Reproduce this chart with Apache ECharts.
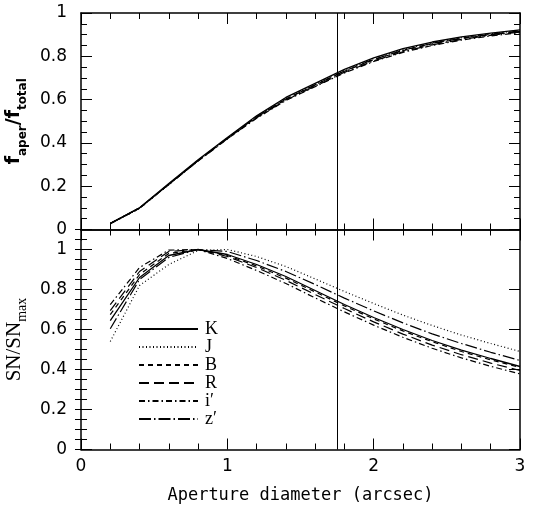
<!DOCTYPE html>
<html><head><meta charset="utf-8">
<script src="https://cdn.jsdelivr.net/npm/echarts@6/dist/echarts.min.js"></script>
<style>html,body{margin:0;padding:0;background:#fff}#c{width:534px;height:507px}</style>
</head><body><div id="c"></div>
<script>
const apertures = [0.2,0.4,0.6,0.8,1.0,1.2,1.4,1.6,1.8,2.0,2.2,2.4,2.6,2.8,3.0];
const bands = ['K','J','B','R','i′','z′'];
const xTicks = [0,1,2,3];
const yTicks = [0,0.2,0.4,0.6,0.8,1];
const markerAperture = 1.75;

// top panel: f_aper / f_total
const fracK = [0.028,0.100,0.212,0.322,0.425,0.525,0.610,0.675,0.740,0.793,0.835,0.866,0.890,0.907,0.922];
const fracJ = [0.026,0.097,0.207,0.318,0.422,0.522,0.606,0.670,0.735,0.789,0.831,0.862,0.886,0.904,0.919];
const fracB = [0.027,0.098,0.208,0.318,0.421,0.519,0.602,0.667,0.731,0.784,0.826,0.858,0.882,0.900,0.915];
const fracR = [0.027,0.099,0.209,0.319,0.422,0.520,0.603,0.668,0.732,0.786,0.828,0.860,0.884,0.902,0.917];
const fracI = [0.028,0.099,0.208,0.316,0.418,0.514,0.596,0.660,0.723,0.776,0.818,0.850,0.875,0.894,0.909];
const fracZ = [0.028,0.100,0.209,0.317,0.419,0.516,0.598,0.662,0.726,0.779,0.821,0.853,0.878,0.897,0.912];

// bottom panel: SN / SN_max
const snK = [0.644,0.860,0.970,1.000,0.975,0.925,0.865,0.795,0.725,0.660,0.600,0.545,0.497,0.455,0.415];
const snJ = [0.540,0.820,0.925,0.995,1.000,0.965,0.915,0.853,0.790,0.730,0.672,0.620,0.572,0.530,0.490];
const snB = [0.674,0.875,0.980,1.000,0.970,0.918,0.857,0.788,0.718,0.653,0.593,0.539,0.490,0.448,0.410];
const snR = [0.694,0.890,0.990,1.000,0.965,0.910,0.846,0.775,0.705,0.638,0.577,0.522,0.474,0.432,0.395];
const snI = [0.724,0.910,0.997,1.000,0.955,0.895,0.830,0.758,0.688,0.622,0.561,0.506,0.458,0.416,0.378];
const snZ = [0.604,0.850,0.960,1.000,0.990,0.945,0.890,0.825,0.757,0.693,0.633,0.578,0.530,0.486,0.445];

const fracs = [fracK,fracJ,fracB,fracR,fracI,fracZ];
const sns = [snK,snJ,snB,snR,snI,snZ];
const dashes = ['solid',[1,2.5],[5,4],[10,5],[6,3,1.5,3],[12,3,1.5,3]];
const widths = [1.3,1.2,1.2,1.2,1.2,1.2];

const chart = echarts.init(document.getElementById('c'), null, {renderer:'canvas'});
const black = '#000';
const numFont = {fontFamily:'DejaVu Sans', fontSize:17, color:black};

function xAx(grid, pos, labels) {
  return {
    type:'value', gridIndex:grid, position:pos, min:0, max:3, interval:1,
    axisLine:{show:true, onZero:false, lineStyle:{color:black,width:1.5}},
    axisTick:{show:true, inside:true, length:11, lineStyle:{color:black,width:1}},
    minorTick:{show:true, splitNumber:5, length:6, lineStyle:{color:black,width:1}},
    splitLine:{show:false}, minorSplitLine:{show:false},
    axisLabel: labels ? Object.assign({show:true, margin:9}, numFont) : {show:false}
  };
}
function yAx(grid, pos, max, interval, tickLen, opts) {
  return Object.assign({
    type:'value', gridIndex:grid, position:pos, min:0, max:max, interval:interval,
    axisLine:{show:true, onZero:false, lineStyle:{color:black,width:1.5}},
    axisTick:{show:true, inside:true, length:tickLen, lineStyle:{color:black,width:1}},
    splitLine:{show:false},
    axisLabel:{show:false}
  }, opts||{});
}
const fRich = {
  a:{fontFamily:'DejaVu Sans', fontWeight:'bold', fontSize:19, color:black, verticalAlign:'middle', lineHeight:24},
  s:{fontFamily:'DejaVu Sans', fontWeight:'bold', fontSize:12, color:black, verticalAlign:'bottom', lineHeight:24, padding:[0,0,-3,0]}
};
const snRich = {
  a:{fontFamily:'Liberation Serif', fontSize:21, color:black, verticalAlign:'middle', lineHeight:24},
  s:{fontFamily:'Liberation Serif', fontSize:14, color:black, verticalAlign:'bottom', lineHeight:24, padding:[0,0,-3,0]}
};

const series = [];
bands.forEach((b,i) => {
  const top = {
    name:b, type:'line', xAxisIndex:0, yAxisIndex:0, symbol:'none', silent:true,
    itemStyle:{color:black},
    lineStyle:{color:black, width:widths[i], type:dashes[i]},
    data: apertures.map((x,j)=>[x, fracs[i][j]])
  };
  const bot = {
    name:b, type:'line', xAxisIndex:2, yAxisIndex:2, symbol:'none', silent:true,
    itemStyle:{color:black},
    lineStyle:{color:black, width:widths[i], type:dashes[i]},
    data: apertures.map((x,j)=>[x, sns[i][j]])
  };
  if (i === 0) {
    const ml = {silent:true, symbol:['none','none'], label:{show:false},
      lineStyle:{color:black, width:1, type:'solid'}, data:[{xAxis:markerAperture}], animation:false};
    top.markLine = ml; bot.markLine = JSON.parse(JSON.stringify(ml));
  }
  series.push(top, bot);
});

chart.setOption({
  animation:false,
  backgroundColor:'#fff',
  grid:[
    {left:81, right:14, top:13, height:216.5, containLabel:false, outerBoundsMode:'none'},
    {left:81, right:14, top:229.5, height:220, containLabel:false, outerBoundsMode:'none'}
  ],
  legend:{
    show:true, orient:'vertical', left:138, top:320, padding:0, itemGap:0,
    itemWidth:59, itemHeight:20, selectedMode:false,
    itemStyle:{opacity:0, borderWidth:0},
    data:bands,
    textStyle:{fontFamily:'Liberation Serif', fontSize:18, color:black, padding:[0,0,0,2]}
  },
  xAxis:[
    xAx(0,'bottom',false),
    xAx(0,'top',false),
    Object.assign(xAx(1,'bottom',true), {
      name:'Aperture diameter (arcsec)', nameLocation:'middle', nameGap:38,
      nameTextStyle:{fontFamily:'DejaVu Sans Mono', fontSize:17, color:black}
    }),
    xAx(1,'top',false)
  ],
  yAxis:[
    yAx(0,'left',1,0.2,11,{
      minorTick:{show:true, splitNumber:4, length:6, lineStyle:{color:black,width:1}},
      axisLabel:Object.assign({show:true, margin:14}, numFont),
      name:'{a|f}{s|aper}{a|/f}{s|total}', nameLocation:'middle', nameGap:37,
      nameTextStyle:{rich:fRich}
    }),
    yAx(0,'right',1,0.2,11,{
      minorTick:{show:true, splitNumber:4, length:6, lineStyle:{color:black,width:1}}
    }),
    yAx(1,'left',1.1,0.2,11,{
      axisLabel:Object.assign({show:true, margin:14, showMaxLabel:false}, numFont),
      name:'{a|SN/SN}{s|max}', nameLocation:'middle', nameGap:38,
      nameTextStyle:{rich:snRich}
    }),
    yAx(1,'left',1.1,0.05,6,{axisLine:{show:false}}),
    yAx(1,'right',1.1,0.2,11),
    yAx(1,'right',1.1,0.05,6,{axisLine:{show:false}})
  ],
  series: series
});
</script></body></html>
